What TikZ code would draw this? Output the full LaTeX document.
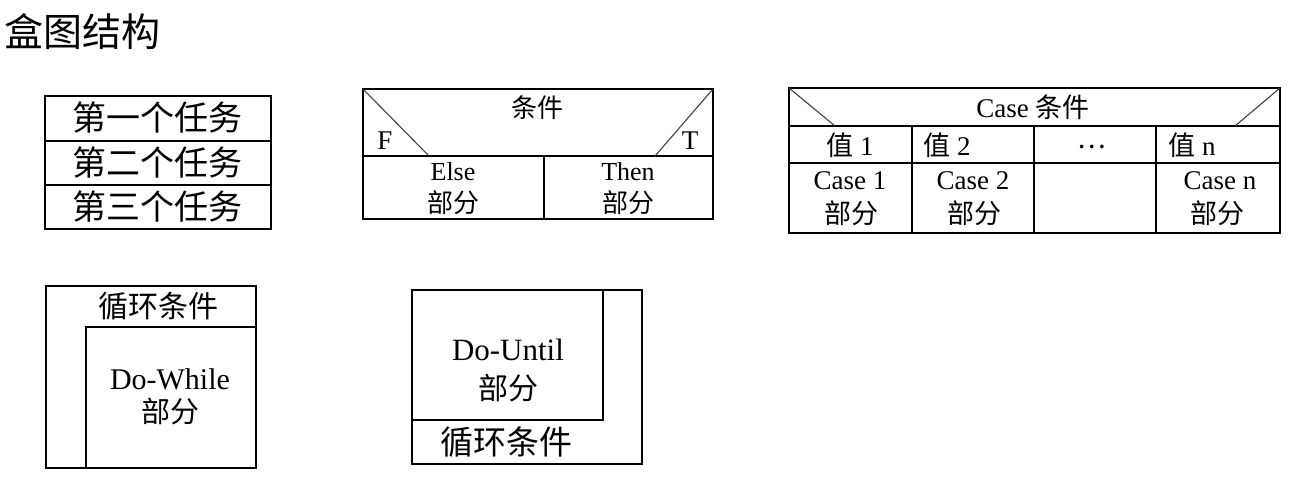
\documentclass[tikz,border=0pt]{standalone}
\usepackage{fontspec}
\setmainfont{Liberation Serif}
\newfontfamily\cjk{Noto Sans CJK SC}
\newcommand{\zh}[1]{{\cjk #1}}
\newcommand{\fs}[1]{\fontsize{#1}{#1}\selectfont}

\begin{document}
\begin{tikzpicture}[x=1pt,y=-1pt,line width=1.6pt,
   txt/.style={inner sep=0pt,font=\fs{26}},
   big/.style={inner sep=0pt,font=\fs{34}},
   diag/.style={line width=1.1pt,black!75}]
   \useasboundingbox (0,0) rectangle (1295,478);
   \node[anchor=west,inner sep=0pt,font=\fs{39}\cjk] (title) at (4,32) {盒图结构};

   % sequence
   \draw (45,96) rectangle (271,229);
   \draw (45,141) -- (271,141);
   \draw (45,185) -- (271,185);
   \foreach \y/\n/\t in {118/one/第一个任务,163/two/第二个任务,207/three/第三个任务}
      \node[big] (\n) at (157,\y) {\zh{\t}};

   % if-then-else
   \draw (363,89) rectangle (713,219);
   \draw (363,156) -- (713,156);
   \draw (544,156) -- (544,219);
   \draw[diag] (363,89) -- (429,156);
   \draw[diag] (713,89) -- (655,156);
   \node[txt] (cond) at (537,108) {\zh{条件}};
   \node[txt,font=\fs{27}] (f) at (385,141) {F};
   \node[txt,font=\fs{27}] (t) at (690,141) {T};
   \node[txt] (else) at (453,172) {Else};
   \node[txt] (elsepart) at (453,203) {\zh{部分}};
   \node[txt] (then) at (628,172) {Then};
   \node[txt] (thenpart) at (628,203) {\zh{部分}};

   % case
   \draw (789,88) rectangle (1280,233);
   \draw (789,126) -- (1280,126);
   \draw (789,163) -- (1280,163);
   \foreach \x in {912,1034,1156} \draw (\x,126) -- (\x,233);
   \draw[diag] (789,88) -- (835,126);
   \draw[diag] (1280,88) -- (1235,126);
   \node[txt,font=\fs{27}] (casecond) at (1033,107) {Case \zh{条件}};
   \node[txt,font=\fs{27}] (v1) at (850,145) {\zh{值} 1};
   \node[txt,font=\fs{27}] (v2) at (947,145) {\zh{值} 2};
   \node[txt,font=\fs{27}] (vdots) at (1092,147) {\zh{…}};
   \node[txt,font=\fs{27}] (vn) at (1192,145) {\zh{值} n};
   \node[txt,font=\fs{27}] (c1) at (850,181) {Case 1};
   \node[txt,font=\fs{27}] (c1part) at (851,213) {\zh{部分}};
   \node[txt,font=\fs{27}] (c2) at (973,181) {Case 2};
   \node[txt,font=\fs{27}] (c2part) at (974,213) {\zh{部分}};
   \node[txt,font=\fs{27}] (cn) at (1220,181) {Case n};
   \node[txt,font=\fs{27}] (cnpart) at (1217,213) {\zh{部分}};

   % do-while
   \draw (46,286) rectangle (256,468);
   \draw (86,468) -- (86,327) -- (256,327);
   \node[txt,font=\fs{30}] (wcond) at (158,306) {\zh{循环条件}};
   \node[txt,font=\fs{30}] (dowhile) at (170,379) {Do-While};
   \node[txt,font=\fs{29}] (wpart) at (170,411) {\zh{部分}};

   % do-until
   \draw (412,290) rectangle (642,464);
   \draw (412,420) -- (603,420) -- (603,290);
   \node[txt,font=\fs{31}] (dountil) at (508,350) {Do-Until};
   \node[txt,font=\fs{30}] (upart) at (508,388) {\zh{部分}};
   \node[txt,font=\fs{33}] (ucond) at (506,442) {\zh{循环条件}};
\end{tikzpicture}
\end{document}
